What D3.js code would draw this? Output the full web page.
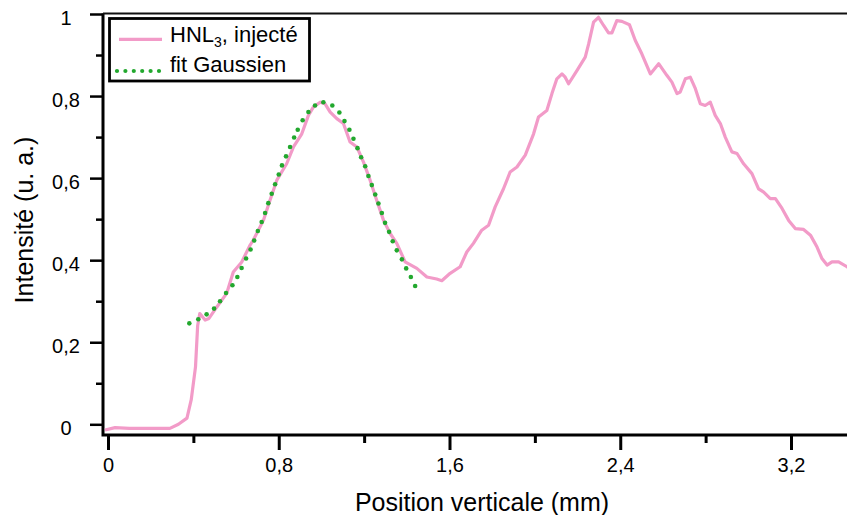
<!DOCTYPE html>
<html>
    <head>
        <meta charset="UTF-8">
        <script src="https://d3js.org/d3.v7.min.js"></script>
        <style>
            body { margin: 0; background: #fff; }
            text { font-family: "Liberation Sans", Arial, sans-serif; fill: #000; }
        </style>
    </head>

    <body>

        <svg id="canvas"></svg>

        <script>

            width = 847;
            height = 515;

            // ticks
            xTicks = [0, 0.8, 1.6, 2.4, 3.2];
            xMinor = [0.4, 1.2, 2.0, 2.8];
            yTicks = [0, 0.2, 0.4, 0.6, 0.8, 1];
            yMinor = [0.1, 0.3, 0.5, 0.7, 0.9];

            // HNL3 profile, [position mm, intensity]
            profile = [
                [-0.014,-0.014],[0.033,-0.008],[0.10,-0.01],[0.29,-0.01],[0.33,0.0],[0.37,0.015],
                [0.39,0.06],[0.41,0.14],[0.42,0.24],[0.43,0.27],[0.455,0.254],[0.473,0.258],
                [0.51,0.286],[0.556,0.319],[0.587,0.371],[0.626,0.395],[0.666,0.437],[0.681,0.449],
                [0.728,0.497],[0.759,0.546],[0.791,0.595],[0.837,0.635],[0.869,0.676],[0.908,0.708],
                [0.939,0.753],[0.962,0.773],[0.994,0.785],[1.017,0.781],[1.041,0.761],[1.072,0.745],
                [1.103,0.733],[1.134,0.688],[1.166,0.676],[1.197,0.639],[1.228,0.595],[1.259,0.546],
                [1.291,0.497],[1.322,0.465],[1.353,0.441],[1.392,0.396],[1.447,0.380],[1.494,0.359],
                [1.540,0.354],[1.564,0.350],[1.603,0.368],[1.65,0.384],[1.681,0.420],[1.712,0.441],
                [1.751,0.473],[1.783,0.485],[1.814,0.530],[1.853,0.574],[1.884,0.615],[1.916,0.627],
                [1.955,0.656],[1.994,0.708],[2.017,0.749],[2.056,0.765],[2.080,0.806],[2.103,0.842],
                [2.127,0.854],[2.142,0.846],[2.158,0.830],[2.197,0.862],[2.236,0.895],[2.252,0.927],
                [2.275,0.980],[2.298,0.992],[2.322,0.972],[2.345,0.954],[2.361,0.954],[2.384,0.984],
                [2.408,0.982],[2.443,0.974],[2.47,0.936],[2.501,0.903],[2.541,0.854],[2.580,0.879],
                [2.619,0.850],[2.642,0.834],[2.666,0.806],[2.681,0.810],[2.705,0.842],[2.728,0.846],
                [2.752,0.818],[2.775,0.781],[2.798,0.777],[2.822,0.785],[2.845,0.753],[2.869,0.733],
                [2.892,0.700],[2.923,0.664],[2.947,0.660],[2.978,0.635],[3.017,0.611],[3.048,0.574],
                [3.072,0.566],[3.103,0.550],[3.127,0.550],[3.158,0.526],[3.189,0.497],[3.220,0.477],
                [3.259,0.475],[3.291,0.461],[3.322,0.432],[3.345,0.404],[3.369,0.388],[3.392,0.396],
                [3.423,0.396],[3.462,0.384],[3.50,0.37]
            ];

            fit = [
                [0.381,0.246],[0.423,0.256],[0.462,0.268],[0.497,0.282],[0.525,0.300],[0.553,0.320],
                [0.583,0.339],[0.606,0.359],[0.626,0.381],[0.647,0.404],[0.668,0.426],[0.685,0.448],
                [0.702,0.471],[0.720,0.493],[0.736,0.515],[0.751,0.539],[0.767,0.562],[0.783,0.585],
                [0.800,0.609],[0.815,0.631],[0.834,0.653],[0.853,0.676],[0.872,0.699],[0.889,0.718],
                [0.912,0.741],[0.939,0.761],[0.970,0.777],[1.009,0.785],[1.051,0.777],[1.084,0.760],
                [1.108,0.739],[1.131,0.718],[1.150,0.696],[1.169,0.673],[1.186,0.651],[1.205,0.629],
                [1.220,0.605],[1.236,0.583],[1.252,0.560],[1.267,0.538],[1.283,0.515],[1.298,0.491],
                [1.317,0.469],[1.334,0.446],[1.353,0.424],[1.377,0.402],[1.397,0.380],[1.419,0.359],
                [1.439,0.337]
            ];

            pink = "#f29bc8";
            green = "#22a82e";

            canvas = d3.select("#canvas")
                .attr("width", width)
                .attr("height", height);

            x = d3.scaleLinear()
                .domain([0, 3.2])
                .range([108, 791]);

            y = d3.scaleLinear()
                .domain([0, 1])
                .range([424.3, 14]);

            axisLeft = 103;
            axisBottom = 435;
            frameTop = 13.5;

            fmt = (d) => String(d).replace(".", ",");

            // y axis
            gy = canvas.append("g")
                .attr("transform", "translate(" + axisLeft + ",0)")
                .call(d3.axisLeft(y).tickValues(yTicks).tickSize(13).tickFormat(fmt));
            gy.select(".domain").remove();
            gy.selectAll(".tick line").attr("stroke", "#000").attr("stroke-width", 2.5);
            gy.selectAll(".tick text")
                .attr("x", 66 - axisLeft)
                .attr("dy", "0.5em")
                .attr("text-anchor", "middle")
                .style("font-size", "20px");

            canvas.append("g")
                .attr("transform", "translate(" + axisLeft + ",0)")
                .call(d3.axisLeft(y).tickValues(yMinor).tickSize(7).tickFormat(""))
                .call((g) => g.select(".domain").remove())
                .selectAll(".tick line").attr("stroke", "#000").attr("stroke-width", 2.5);

            // x axis
            gx = canvas.append("g")
                .attr("transform", "translate(0," + axisBottom + ")")
                .call(d3.axisBottom(x).tickValues(xTicks).tickSize(15).tickFormat(fmt));
            gx.select(".domain").remove();
            gx.selectAll(".tick line").attr("stroke", "#000").attr("stroke-width", 3);
            gx.selectAll(".tick text")
                .attr("y", 31)
                .attr("dy", "0.32em")
                .style("font-size", "20px");

            canvas.append("g")
                .attr("transform", "translate(0," + axisBottom + ")")
                .call(d3.axisBottom(x).tickValues(xMinor).tickSize(8).tickFormat(""))
                .call((g) => g.select(".domain").remove())
                .selectAll(".tick line").attr("stroke", "#000").attr("stroke-width", 3);

            // frame lines
            canvas.append("path")
                .attr("d", "M" + axisLeft + "," + frameTop + "V" + axisBottom + "H" + width)
                .attr("style", "fill:none; stroke:#000; stroke-width:3;");
            canvas.append("path")
                .attr("d", "M" + axisLeft + "," + frameTop + "H" + width)
                .attr("style", "fill:none; stroke:#111; stroke-width:2.2;");

            // data
            line = d3.line()
                .x((d) => x(d[0]))
                .y((d) => y(d[1]));

            canvas.append("path")
                .datum(profile)
                .attr("d", line)
                .attr("style", "fill:none; stroke:" + pink + "; stroke-width:3.2; stroke-linejoin:round;");

            canvas.append("g")
                .selectAll("circle")
                .data(fit)
                .enter().append("circle")
                    .attr("cx", (d) => x(d[0]))
                    .attr("cy", (d) => y(d[1]))
                    .attr("r", 2.3)
                    .attr("fill", green);

            // legend
            legend = canvas.append("g");

            legend.append("rect")
                .attr("x", 109.5).attr("y", 18.5)
                .attr("width", 200).attr("height", 62.5)
                .attr("style", "fill:#fff; stroke:#000; stroke-width:2.8;");

            legend.append("line")
                .attr("x1", 119).attr("x2", 162)
                .attr("y1", 39.3).attr("y2", 39.3)
                .attr("style", "stroke:" + pink + "; stroke-width:3.2;");

            legend.append("line")
                .attr("x1", 117).attr("x2", 162)
                .attr("y1", 71).attr("y2", 71)
                .attr("style", "stroke:" + green + "; stroke-width:4.2; stroke-linecap:round; stroke-dasharray:0,8.4;");

            t1 = legend.append("text")
                .attr("x", 170).attr("y", 41.5)
                .style("font-size", "22px");
            t1.append("tspan").text("HNL");
            t1.append("tspan").text("3").attr("dy", 5).style("font-size", "14px");
            t1.append("tspan").text(", injecté").attr("dy", -5);

            legend.append("text")
                .attr("x", 170).attr("y", 71.5)
                .style("font-size", "22px")
                .text("fit Gaussien");

            // axis titles
            canvas.append("text")
                .attr("x", 482).attr("y", 511)
                .attr("text-anchor", "middle")
                .style("font-size", "25px")
                .text("Position verticale (mm)");

            canvas.append("text")
                .attr("transform", "translate(33,220) rotate(-90)")
                .attr("text-anchor", "middle")
                .style("font-size", "25px")
                .text("Intensité (u. a.)");

        </script>

    </body>

</html>
